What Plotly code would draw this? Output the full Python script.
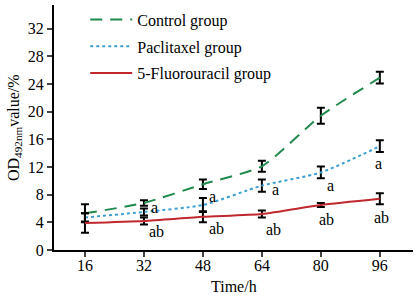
import plotly.graph_objects as go

hours = [16, 32, 48, 64, 80, 96]
control = [5.3, 6.8, 9.5, 12.1, 19.4, 24.9]
control_err = [1.3, 0.4, 0.7, 0.8, 1.15, 0.85]
paclitaxel = [4.7, 5.5, 6.5, 9.3, 11.2, 15.0]
paclitaxel_err = [0.6, 0.5, 1.0, 0.9, 0.85, 0.85]
fluoro = [3.9, 4.2, 4.8, 5.2, 6.5, 7.4]
fluoro_err = [1.4, 0.5, 0.8, 0.5, 0.3, 0.8]

names = ["Control group", "Paclitaxel group", "5-Fluorouracil group"]
colors = ["#1f8a4c", "#3a9fd0", "#c0282d"]
dashes = [(12, 8), "dot", "solid"]

a_x = [34.8, 50.5, 67.7, 82.7, 95.7]
a_y = [6.2, 7.75, 8.75, 9.35, 12.5]
ab_x = [35.5, 51.8, 67.2, 81.6, 96.5]
ab_y = [2.7, 3.1, 3.0, 4.4, 4.75]

font = "Times New Roman, Liberation Serif, Tinos, serif"

fig = go.Figure()
for i, (vals, errs) in enumerate([(control, control_err), (paclitaxel, paclitaxel_err), (fluoro, fluoro_err)]):
    d = dashes[i]
    dash = f"{d[0]}px,{d[1]}px" if isinstance(d, tuple) else d
    fig.add_trace(go.Scatter(
        x=hours, y=vals, name=names[i], mode="lines",
        line=dict(color=colors[i], width=2, dash=dash, shape="spline", smoothing=0.6),
        error_y=dict(type="data", array=errs, color="black", thickness=2, width=4, visible=True),
        legendgroup=str(i),
    ))

for x, y in zip(a_x, a_y):
    fig.add_annotation(x=x, y=y, text="a", showarrow=False, font=dict(family=font, size=16, color="black"))
for x, y in zip(ab_x, ab_y):
    fig.add_annotation(x=x, y=y, text="ab", showarrow=False, font=dict(family=font, size=16, color="black"))

fig.add_annotation(xref="paper", yref="paper", x=0.5, y=-0.15, text="Time/h", showarrow=False,
                   xanchor="center", yanchor="middle", font=dict(family=font, size=16, color="black"))
fig.add_annotation(xref="paper", yref="paper", x=-0.11, y=0.5, text="OD<sub>492nm</sub>value/%", showarrow=False,
                   textangle=-90, xanchor="center", yanchor="middle", font=dict(family=font, size=16, color="black"))

fig.update_layout(
    width=418, height=302,
    margin=dict(l=54, r=5, t=5, b=52, autoexpand=False),
    paper_bgcolor="white", plot_bgcolor="white",
    font=dict(family=font, size=16, color="black"),
    showlegend=True,
    legend=dict(x=0.087, y=1.01, xanchor="left", yanchor="top", bgcolor="rgba(0,0,0,0)",
                tracegroupgap=3, itemwidth=42, font=dict(family=font, size=16)),
    xaxis=dict(range=[7.6, 105], tickvals=hours, ticks="outside", ticklen=5, tickwidth=2,
               showline=True, linecolor="black", linewidth=2, showgrid=False, zeroline=False,
               automargin=False, ticklabelstandoff=-5),
    yaxis=dict(range=[0, 35.4], tickvals=[0, 4, 8, 12, 16, 20, 24, 28, 32], ticks="outside", ticklen=5, tickwidth=2,
               showline=True, linecolor="black", linewidth=2, showgrid=False, zeroline=False,
               automargin=False),
)

fig.write_html("out.html", config={"displayModeBar": False},
               post_script="document.body.style.margin='0';")
